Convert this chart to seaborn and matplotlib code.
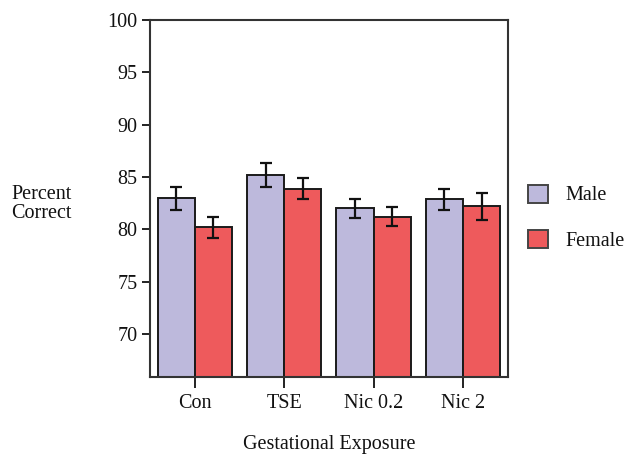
import pandas as pd
import matplotlib
matplotlib.use("Agg")
import matplotlib.pyplot as plt
from matplotlib.patches import Patch
import seaborn as sns

# Data
exposures = ['Con', 'TSE', 'Nic 0.2', 'Nic 2']
male_pct = [83.0, 85.2, 82.0, 82.9]
female_pct = [80.2, 83.9, 81.2, 82.2]
male_sem = [1.1, 1.1, 0.9, 1.0]
female_sem = [1.0, 1.0, 0.9, 1.3]

colors = {'Male': '#bdb9dc', 'Female': '#ee5a5c'}

df = pd.DataFrame({
    'Exposure': exposures * 2,
    'Sex': ['Male'] * 4 + ['Female'] * 4,
    'Percent': male_pct + female_pct,
    'SEM': male_sem + female_sem,
})

sns.set_style("white")
plt.rcParams['font.family'] = ['Liberation Serif', 'DejaVu Serif']
plt.rcParams['text.color'] = '#111111'
fs = 14.5

fig = plt.figure(figsize=(6.3, 4.58), dpi=100)
ax = fig.add_axes([0.238, 0.177, 0.568, 0.779])

sns.barplot(data=df, x='Exposure', y='Percent', hue='Sex', order=exposures,
            hue_order=['Male', 'Female'], palette=colors, errorbar=None,
            width=0.83, edgecolor='#1a1a1a', linewidth=1.4, saturation=1,
            legend=False, ax=ax)

# Error bars (SEM) on top of each bar
for container, sex in zip(ax.containers, ['Male', 'Female']):
    sems = df[df['Sex'] == sex].set_index('Exposure').loc[exposures, 'SEM'].values
    for bar, e in zip(container, sems):
        xc = bar.get_x() + bar.get_width() / 2
        ax.errorbar(xc, bar.get_height(), yerr=e, color='#111111',
                    capsize=4, capthick=1.6, elinewidth=1.6, zorder=5)

ax.set_ylim(65.9, 100)
ax.set_xlim(-0.5, 3.5)
ax.set_yticks([70, 75, 80, 85, 90, 95, 100])
ax.tick_params(axis='both', labelsize=fs, colors='#111111')
ax.tick_params(axis='y', length=6, width=1.3, left=True, pad=3)
ax.tick_params(axis='x', length=8, width=1.3, bottom=True, pad=4)
for s in ax.spines.values():
    s.set_linewidth(1.5)
    s.set_color('#333333')

ax.set_xlabel('Gestational Exposure', fontsize=fs, labelpad=16, color='#111111')
ax.set_ylabel('')
fig.text(0.018, 0.555, 'Percent\nCorrect', fontsize=fs, ha='left', va='center',
         linespacing=1.0)

handles = [Patch(facecolor=colors[k], edgecolor='#444444', linewidth=1.4, label=k)
           for k in ['Male', 'Female']]
fig.legend(handles=handles, loc='center left', bbox_to_anchor=(0.81, 0.525),
           frameon=False, fontsize=fs, handlelength=0.95, handleheight=1.0,
           labelspacing=1.2, handletextpad=0.9)

fig.savefig('out.png', dpi=100)
